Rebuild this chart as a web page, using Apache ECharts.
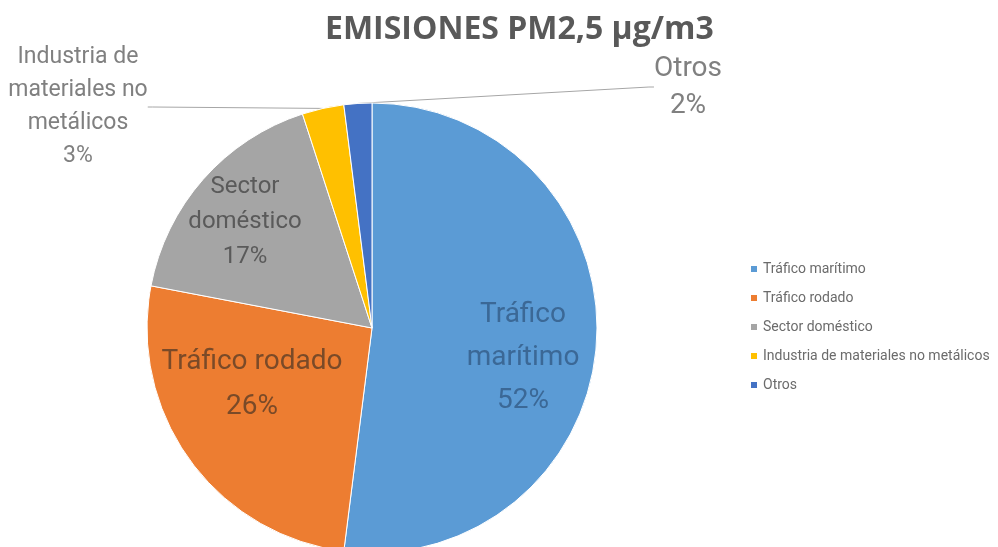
<!DOCTYPE html>
<html>
<head>
<meta charset="utf-8">
<title>EMISIONES PM2,5</title>
<script src="https://cdn.jsdelivr.net/npm/echarts@6/dist/echarts.min.js"></script>
<style>
  html, body { margin: 0; padding: 0; background: #fff; }
  #chart { width: 998px; height: 547px; }
</style>
</head>
<body>
<div id="chart"></div>
<script>
// datos
var categorias = ["Tráfico marítimo", "Tráfico rodado", "Sector doméstico", "Industria de materiales no metálicos", "Otros"];
var etiquetas = ["Tráfico\nmarítimo", "Tráfico rodado", "Sector\ndoméstico", "Industria de\nmateriales no\nmetálicos", "Otros"];
var valores = [52, 26, 17, 3, 2];
var colores = ["#5b9bd5", "#ed7d31", "#a5a5a5", "#ffc000", "#4472c4"];

// posición de cada etiqueta
var posEtiquetas = [[523, 358], [252, 384], [245, 222], [78, 107], [688, 87]];
var colorTexto = ["#3b6896", "#7a4a28", "#5a5a5a", "#808080", "#808080"];
var tamTexto = [28, 28, 24, 23, 28];
var altoLinea = [43, 45, 35, 33, 37];

var narrow = "Roboto, sans-serif";

var datos = [];
for (var i = 0; i < valores.length; i++) {
  var fuera = i >= 3;
  datos.push({
    name: categorias[i],
    value: valores[i],
    itemStyle: { color: colores[i] },
    label: {
      color: colorTexto[i],
      fontSize: tamTexto[i],
      lineHeight: altoLinea[i],
      position: fuera ? "outside" : "inside"
    },
    labelLine: { show: fuera }
  });
}

var chart = echarts.init(document.getElementById("chart"));
var option = {
  animation: false,
  title: {
    text: "EMISIONES PM2,5 µg/m3",
    left: 320,
    top: 9,
    textStyle: {
      fontFamily: "'Open Sans', sans-serif",
      fontSize: 32,
      fontWeight: "bold",
      color: "#595959"
    }
  },
  legend: {
    orient: "vertical",
    left: 744,
    top: 257,
    icon: "rect",
    itemWidth: 8,
    itemHeight: 8,
    itemGap: 15,
    textStyle: { fontSize: 14, color: "#6b6b6b", fontFamily: "Roboto, sans-serif" },
    data: categorias
  },
  series: [
    {
      type: "pie",
      center: [372, 328],
      radius: 225,
      startAngle: 90,
      clockwise: true,
      itemStyle: { borderColor: "#ffffff", borderWidth: 1 },
      label: {
        fontFamily: narrow,
        align: "center",
        formatter: function (p) {
          return etiquetas[p.dataIndex] + "\n" + p.value + "%";
        }
      },
      labelLine: {
        lineStyle: { color: "#a6a6a6", width: 1 },
        length: 5,
        length2: 5
      },
      labelLayout: function (p) {
        var pos = posEtiquetas[p.dataIndex];
        return { x: pos[0], y: pos[1], align: "center", verticalAlign: "middle" };
      },
      data: datos
    }
  ]
};
chart.setOption(option);
</script>
</body>
</html>
